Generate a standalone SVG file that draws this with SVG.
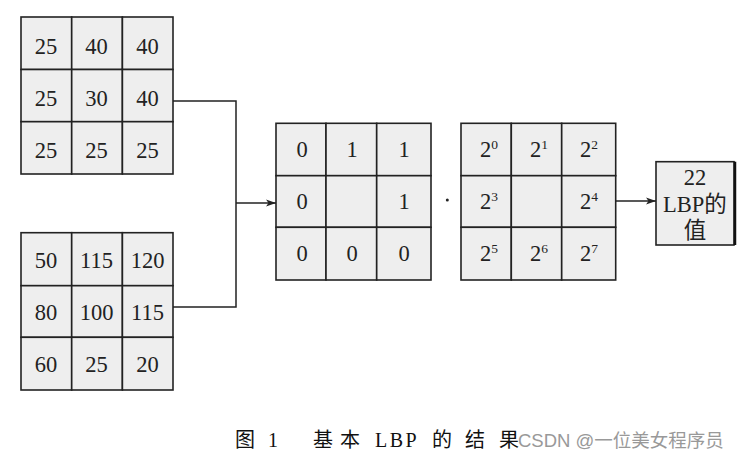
<svg xmlns="http://www.w3.org/2000/svg" width="747" height="460" viewBox="0 0 747 460">
<style>
.c{fill:#eeeeee;stroke:#222;stroke-width:1.6}
.t{font-family:"Liberation Serif","Noto Sans CJK SC",serif;font-size:22.5px;fill:#222;text-anchor:middle}
.s{font-size:13.5px}
.ln{fill:none;stroke:#222;stroke-width:1.5}
.cap{font-family:"Liberation Serif","Noto Sans CJK SC",serif;font-size:20px;fill:#111}
.wm{font-family:"Liberation Sans","Noto Sans CJK SC",sans-serif;font-size:18.5px;fill:#999}
</style>
<defs>
<marker id="ar" markerWidth="10" markerHeight="8" refX="10" refY="4" orient="auto" markerUnits="userSpaceOnUse">
<path d="M0,0.5 L10,4 L0,7.5 L2.5,4 Z" fill="#222"/>
</marker>
</defs>
<g id="grid1">
<rect class="c" x="21" y="17" width="50.7" height="52.5"/><rect class="c" x="71.7" y="17" width="50.7" height="52.5"/><rect class="c" x="122.4" y="17" width="50.6" height="52.5"/>
<rect class="c" x="21" y="69.5" width="50.7" height="52.2"/><rect class="c" x="71.7" y="69.5" width="50.7" height="52.2"/><rect class="c" x="122.4" y="69.5" width="50.6" height="52.2"/>
<rect class="c" x="21" y="121.7" width="50.7" height="52.3"/><rect class="c" x="71.7" y="121.7" width="50.7" height="52.3"/><rect class="c" x="122.4" y="121.7" width="50.6" height="52.3"/>
<text class="t" x="46" y="54">25</text><text class="t" x="96.5" y="54">40</text><text class="t" x="147.5" y="54">40</text>
<text class="t" x="46" y="106">25</text><text class="t" x="96.5" y="106">30</text><text class="t" x="147.5" y="106">40</text>
<text class="t" x="46" y="158">25</text><text class="t" x="96.5" y="158">25</text><text class="t" x="147.5" y="158">25</text>
</g>
<g id="grid2">
<rect class="c" x="21" y="232.7" width="50.7" height="53"/><rect class="c" x="71.7" y="232.7" width="50.7" height="53"/><rect class="c" x="122.4" y="232.7" width="50.6" height="53"/>
<rect class="c" x="21" y="285.7" width="50.7" height="51.6"/><rect class="c" x="71.7" y="285.7" width="50.7" height="51.6"/><rect class="c" x="122.4" y="285.7" width="50.6" height="51.6"/>
<rect class="c" x="21" y="337.3" width="50.7" height="52.7"/><rect class="c" x="71.7" y="337.3" width="50.7" height="52.7"/><rect class="c" x="122.4" y="337.3" width="50.6" height="52.7"/>
<text class="t" x="46" y="268">50</text><text class="t" x="96.5" y="268">115</text><text class="t" x="147.5" y="268">120</text>
<text class="t" x="46" y="320">80</text><text class="t" x="96.5" y="320">100</text><text class="t" x="147.5" y="320">115</text>
<text class="t" x="46" y="372">60</text><text class="t" x="96.5" y="372">25</text><text class="t" x="147.5" y="372">20</text>
</g>
<g id="grid3">
<rect class="c" x="276" y="123.3" width="50" height="52.4"/><rect class="c" x="326" y="123.3" width="50.7" height="52.4"/><rect class="c" x="376.7" y="123.3" width="54.3" height="52.4"/>
<rect class="c" x="276" y="175.7" width="50" height="51.6"/><rect class="c" x="326" y="175.7" width="50.7" height="51.6"/><rect class="c" x="376.7" y="175.7" width="54.3" height="51.6"/>
<rect class="c" x="276" y="227.3" width="50" height="52.7"/><rect class="c" x="326" y="227.3" width="50.7" height="52.7"/><rect class="c" x="376.7" y="227.3" width="54.3" height="52.7"/>
<text class="t" x="302" y="157">0</text><text class="t" x="352" y="157">1</text><text class="t" x="404" y="157">1</text>
<text class="t" x="302" y="209">0</text><text class="t" x="404" y="209">1</text>
<text class="t" x="302" y="261">0</text><text class="t" x="352" y="261">0</text><text class="t" x="404" y="261">0</text>
</g>
<g id="dot"><circle cx="447.3" cy="200" r="1.5" fill="#222"/></g>
<g id="grid4">
<rect class="c" x="461" y="123.3" width="50.3" height="52.4"/><rect class="c" x="511.3" y="123.3" width="50.4" height="52.4"/><rect class="c" x="561.7" y="123.3" width="54" height="52.4"/>
<rect class="c" x="461" y="175.7" width="50.3" height="51.6"/><rect class="c" x="511.3" y="175.7" width="50.4" height="51.6"/><rect class="c" x="561.7" y="175.7" width="54" height="51.6"/>
<rect class="c" x="461" y="227.3" width="50.3" height="52.7"/><rect class="c" x="511.3" y="227.3" width="50.4" height="52.7"/><rect class="c" x="561.7" y="227.3" width="54" height="52.7"/>
<text class="t" x="489" y="157">2<tspan class="s" dy="-8.5">0</tspan></text>
<text class="t" x="539" y="157">2<tspan class="s" dy="-8.5">1</tspan></text>
<text class="t" x="589" y="157">2<tspan class="s" dy="-8.5">2</tspan></text>
<text class="t" x="489" y="209">2<tspan class="s" dy="-8.5">3</tspan></text>
<text class="t" x="589" y="209">2<tspan class="s" dy="-8.5">4</tspan></text>
<text class="t" x="489" y="261">2<tspan class="s" dy="-8.5">5</tspan></text>
<text class="t" x="539" y="261">2<tspan class="s" dy="-8.5">6</tspan></text>
<text class="t" x="589" y="261">2<tspan class="s" dy="-8.5">7</tspan></text>
</g>
<g id="result">
<rect class="c" x="656" y="161.7" width="78" height="83.3"/>
<line x1="735" y1="161.7" x2="735" y2="245" stroke="#111" stroke-width="2.5"/>
<text class="t" x="695" y="185">22</text>
<text class="t" x="695" y="211.5">LBP的</text>
<text class="t" x="695" y="237.5">值</text>
</g>
<g id="connectors">
<polyline class="ln" points="173,101 236,101 236,307 173,307"/>
<line class="ln" x1="236" y1="203" x2="276" y2="203" marker-end="url(#ar)"/>
<line class="ln" x1="615.7" y1="201" x2="656" y2="201" marker-end="url(#ar)"/>
</g>
<g id="caption">
<text class="cap" x="235" y="447">图</text>
<text class="cap" x="268" y="447">1</text>
<text class="cap" x="313" y="447">基</text>
<text class="cap" x="340" y="447">本</text>
<text class="cap" x="375" y="447" letter-spacing="2.5">LBP</text>
<text class="cap" x="432" y="447">的</text>
<text class="cap" x="465" y="447">结</text>
<text class="cap" x="499" y="447">果</text>
<text class="wm" x="518" y="447">CSDN @一位美女程序员</text>
</g>
</svg>
